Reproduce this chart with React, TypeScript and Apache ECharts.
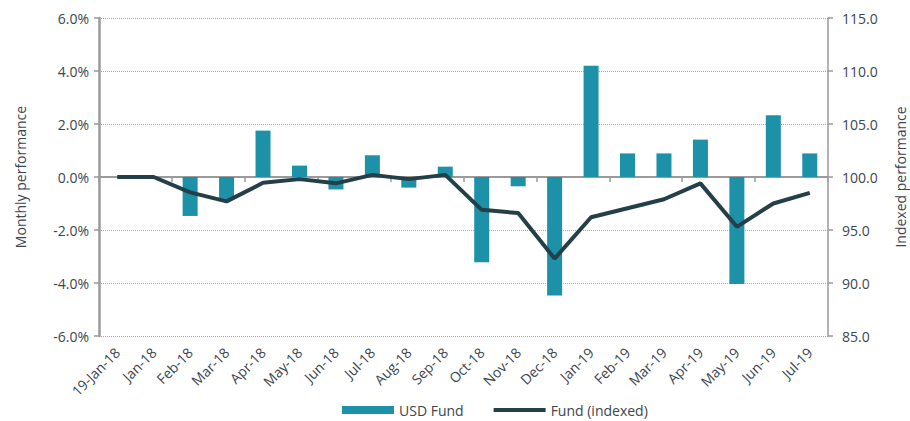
import React, { useEffect, useRef } from "react";
import * as echarts from "echarts";

const categories = [
  "19-Jan-18", "Jan-18", "Feb-18", "Mar-18", "Apr-18", "May-18", "Jun-18", "Jul-18",
  "Aug-18", "Sep-18", "Oct-18", "Nov-18", "Dec-18", "Jan-19", "Feb-19", "Mar-19",
  "Apr-19", "May-19", "Jun-19", "Jul-19",
];
const monthlyPerf = [
  0, 0, -1.47, -0.85, 1.75, 0.43, -0.47, 0.82, -0.4, 0.39, -3.22, -0.35, -4.47,
  4.2, 0.89, 0.89, 1.41, -4.04, 2.33, 0.89,
];
const indexedPerf = [
  100, 100, 98.55, 97.7, 99.45, 99.8, 99.4, 100.2, 99.8, 100.2, 96.9, 96.6, 92.3,
  96.2, 97.05, 97.9, 99.4, 95.3, 97.5, 98.5,
];
const leftTicks = { min: -6, max: 6, interval: 2 };
const rightTicks = { min: 85, max: 115, interval: 5 };

const FONT = "'Open Sans', 'Noto Sans', sans-serif";
const TXT = "#3b4650";
const AXIS = "#9a9a9a";
const LINE = "#253f48";

export default function App() {
  const ref = useRef<HTMLDivElement>(null);
  useEffect(() => {
    if (!ref.current) return;
    const chart = echarts.init(ref.current, undefined, { renderer: "svg" });
    chart.setOption({
      animation: false,
      textStyle: { fontFamily: FONT },
      grid: {
        left: 99,
        right: 82,
        top: 18,
        bottom: 85,
        containLabel: false,
        outerBoundsMode: "none",
      },
      legend: {
        top: 398,
        left: 337,
        itemGap: 30,
        itemWidth: 52,
        itemHeight: 8,
        textStyle: { fontFamily: FONT, fontSize: 14, color: TXT },
        data: [
          { name: "USD Fund", icon: "rect" },
          { name: "Fund (indexed)", icon: "path://M0,0 H54 V4 H0 Z", itemStyle: { color: LINE } },
        ],
      },
      xAxis: [
        {
          type: "category",
          data: categories,
          position: "bottom",
          axisLine: { show: false, onZero: false },
          axisTick: { show: false },
          axisLabel: {
            rotate: 45,
            margin: 14,
            fontSize: 14,
            color: TXT,
            fontFamily: FONT,
            interval: 0,
          },
        },
        {
          type: "category",
          data: categories,
          position: "bottom",
          axisLine: { show: true, onZero: true, lineStyle: { color: AXIS, width: 2 } },
          axisTick: { show: true, length: 5, lineStyle: { color: AXIS, width: 1.5 } },
          axisLabel: { show: false },
        },
      ],
      yAxis: [
        {
          type: "value",
          min: leftTicks.min,
          max: leftTicks.max,
          interval: leftTicks.interval,
          name: "Monthly performance",
          nameLocation: "middle",
          nameRotate: 90,
          nameGap: 72,
          nameTextStyle: { fontSize: 14, color: TXT, fontFamily: FONT },
          axisLine: { show: true, lineStyle: { color: AXIS, width: 2.5 } },
          axisTick: { show: true, length: 5, lineStyle: { color: AXIS, width: 1.5 } },
          axisLabel: {
            fontSize: 14,
            color: TXT,
            fontFamily: FONT,
            margin: 10,
            formatter: (v: number) => v.toFixed(1) + "%",
          },
          splitLine: { show: true, lineStyle: { type: "dotted", color: "#a8a8a8", width: 1 } },
        },
        {
          type: "value",
          min: rightTicks.min,
          max: rightTicks.max,
          interval: rightTicks.interval,
          position: "right",
          name: "Indexed performance",
          nameLocation: "middle",
          nameRotate: 90,
          nameGap: 65,
          nameTextStyle: { fontSize: 14, color: TXT, fontFamily: FONT },
          axisLine: { show: true, lineStyle: { color: AXIS, width: 1.5 } },
          axisTick: { show: true, length: 5, lineStyle: { color: AXIS, width: 1.5 } },
          axisLabel: {
            fontSize: 14,
            color: TXT,
            fontFamily: FONT,
            margin: 14,
            formatter: (v: number) => v.toFixed(1),
          },
          splitLine: { show: false },
        },
      ],
      series: [
        {
          name: "USD Fund",
          type: "bar",
          xAxisIndex: 0,
          yAxisIndex: 0,
          barWidth: 15,
          data: monthlyPerf,
          itemStyle: { color: "#1d91a8" },
        },
        {
          name: "Fund (indexed)",
          type: "line",
          xAxisIndex: 0,
          yAxisIndex: 1,
          data: indexedPerf,
          showSymbol: false,
          symbol: "none",
          lineStyle: { color: LINE, width: 4 },
          itemStyle: { color: LINE },
        },
      ],
    });
    return () => chart.dispose();
  }, []);
  return <div ref={ref} style={{ width: 910, height: 421, position: "absolute", left: 0, top: 0 }} />;
}
